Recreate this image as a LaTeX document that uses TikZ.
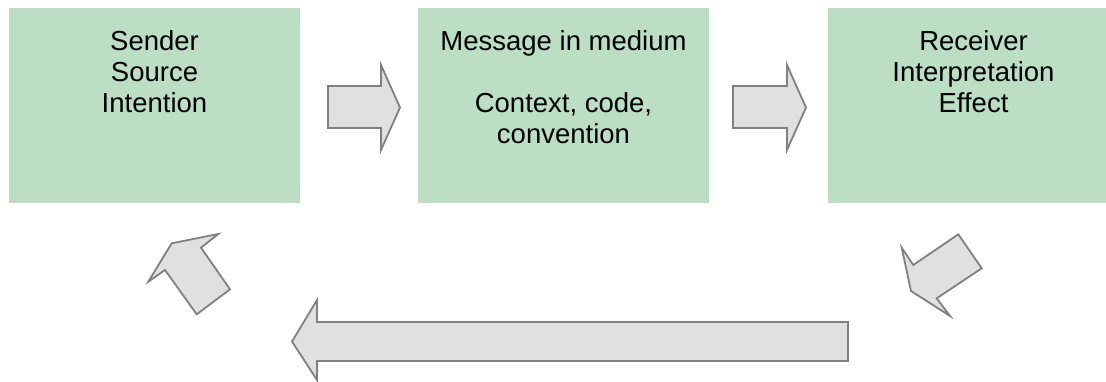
\documentclass[tikz,border=0pt]{standalone}
\usepackage{fontspec}
\setmainfont{Liberation Sans}
\definecolor{boxgreen}{RGB}{187,222,196}
\definecolor{arrowfill}{RGB}{224,224,224}
\definecolor{arrowline}{RGB}{128,128,128}
\tikzset{
  stagebox/.style={draw=none, fill=boxgreen},
  stagetext/.style={anchor=north, inner sep=0pt, align=center,
    font=\fontsize{27.5}{31}\selectfont, text=black},
  blockarrow/.style={draw=arrowline, fill=arrowfill, line width=1.8pt, line join=miter}
}
\begin{document}
\begin{tikzpicture}[x=1pt, y=-1pt]
  \useasboundingbox (0,0) rectangle (1106,381);

  % three stages of the communication chain
  \fill[stagebox] (9,8) rectangle (300,203);
  \fill[stagebox] (418,8) rectangle (709,203);
  \fill[stagebox] (828,8) rectangle (1106,203);

  \node[stagetext] (sender) at (154.5,30.5) {Sender\\Source\\Intention};
  \node[stagetext] (message) at (563.5,30.5) {Message in medium\\[31pt]Context, code,\\convention};
  \node[stagetext] (receiver) at (973.5,30.5) {Receiver\\Interpretation\\Effect};

  % forward arrows between the stages
  \draw[blockarrow] (328,86) -- (381,86) -- (381,65) -- (400,107.5)
    -- (381,150) -- (381,128) -- (328,128) -- cycle;
  \draw[blockarrow] (733,86) -- (787,86) -- (787,65) -- (806,107.5)
    -- (787,150) -- (787,128) -- (733,128) -- cycle;

  % feedback loop back to the sender
  \draw[blockarrow] (911,291) -- (901.7,247.7) -- (913.3,265) -- (958.3,234.3)
    -- (981.7,268.3) -- (936.7,298.3) -- (950,316) -- cycle;
  \draw[blockarrow] (848,322) -- (317,322) -- (317,300) -- (292,341.5)
    -- (317,380) -- (317,361) -- (848,361) -- cycle;
  \draw[blockarrow] (171.7,243.3) -- (218.3,234) -- (201,247.7) -- (230,289.3)
    -- (196.7,314.3) -- (165,270) -- (148.3,281.7) -- cycle;
\end{tikzpicture}
\end{document}
